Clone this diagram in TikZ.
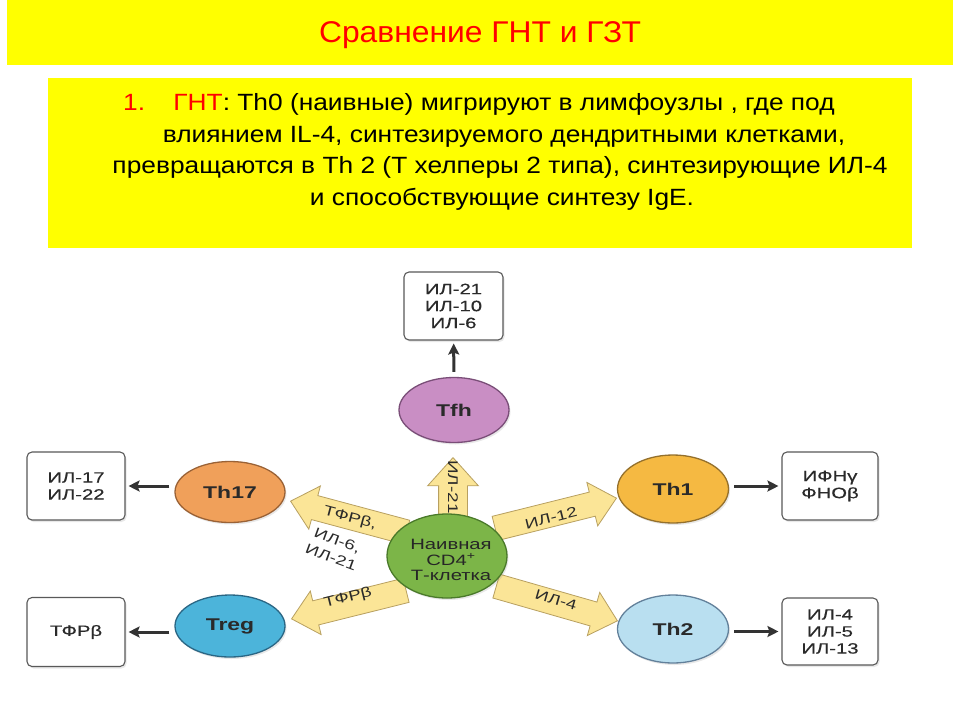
\documentclass[tikz,border=0pt]{standalone}
\usepackage{fontspec}
\setmainfont{Liberation Sans}
\newfontfamily\bodyf[FakeStretch=1.12]{Liberation Sans}
\newfontfamily\titlef[FakeStretch=1.06]{Liberation Sans}
\newfontfamily\dg[FakeStretch=1.35]{Liberation Sans}
\newfontfamily\dgb[FakeStretch=1.35,FakeBold=0.4]{Liberation Sans}
\usetikzlibrary{shapes.geometric,shapes.arrows,arrows.meta,shadows}
\definecolor{band}{HTML}{FFFF00}
\definecolor{afill}{HTML}{FBE597}
\definecolor{aedge}{HTML}{B8A060}
\definecolor{cTfh}{HTML}{C98EC4}\definecolor{eTfh}{HTML}{7A4E78}
\definecolor{cThs}{HTML}{F0A05A}\definecolor{eThs}{HTML}{9A6236}
\definecolor{cTho}{HTML}{F5B942}\definecolor{eTho}{HTML}{94702C}
\definecolor{cTht}{HTML}{B9DFF0}\definecolor{eTht}{HTML}{62809A}
\definecolor{cTrg}{HTML}{4CB4DA}\definecolor{eTrg}{HTML}{2A6684}
\definecolor{cCen}{HTML}{7CB548}\definecolor{eCen}{HTML}{4A7A2A}
\definecolor{txt}{HTML}{2A2A2A}
\tikzset{
  softshadow/.style={drop shadow={opacity=0.18, shadow xshift=1.5pt, shadow yshift=-2pt}},
  outbox/.style={draw=black!65, line width=1.1pt, rounded corners=5pt, fill=white,
    softshadow, align=center, inner sep=0pt, text=txt, font=\dgb\fontsize{15}{17}\selectfont},
  cell/.style={ellipse, line width=1.3pt, inner sep=0pt, text=txt, softshadow,
    font=\dg\bfseries\fontsize{17}{18}\selectfont},
  blockarrow/.style={single arrow, draw=aedge, fill=afill, line width=0.8pt,
    single arrow head extend=10pt, single arrow tip angle=84,
    text height=9pt, text depth=3pt, inner ysep=6pt, inner xsep=0pt,
    anchor=tip},
  uparrow/.style={blockarrow, single arrow head extend=11pt, inner ysep=8pt},
  alabel/.style={inner sep=0pt, text=txt, font=\dg\fontsize{14}{14}\selectfont},
  blk/.style={line width=3pt, draw=black!80,
    -{Stealth[length=11pt,width=11pt,inset=2pt]}, shorten >=3pt, shorten <=5pt},
  bodytext/.style={anchor=base, inner sep=0pt, font=\bodyf\fontsize{23.5}{32}\selectfont}
}
\begin{document}
\begin{tikzpicture}[x=1pt,y=-1pt]
\useasboundingbox (0,0) rectangle (960,720);
\fill[white] (0,0) rectangle (960,720);
% title band
\node[fill=band, minimum width=946pt, minimum height=65pt, inner sep=0pt, anchor=north west] (band) at (7,0) {};
\node[text=red, font=\titlef\fontsize{30}{32}\selectfont, inner sep=0pt] (title) at (480,35) {Сравнение ГНТ и ГЗТ};
% text box
\node[fill=band, minimum width=864pt, minimum height=170pt, inner sep=0pt, anchor=north west] (tbox) at (48,78) {};
\node[bodytext, anchor=base west, text=red] (num) at (123,110) {1.};
\node[bodytext] (l1) at (504,110) {\textcolor{red}{ГНТ}: Th0 (наивные) мигрируют в лимфоузлы , где под};
\node[bodytext] (l2) at (504,142) {влиянием IL-4, синтезируемого дендритными клетками,};
\node[bodytext] (l3) at (500,173) {превращаются в Th 2 (Т хелперы 2 типа), синтезирующие ИЛ-4};
\node[bodytext] (l4) at (502,205) {и способствующие синтезу IgE.};

% block arrows (behind central cell)
\node[uparrow, rotate=-90, shape border rotate=180, minimum height=65pt] (aup) at (453,457) {};
\node[blockarrow, rotate=-15, shape border rotate=180, minimum height=120pt] (aul) at (290,501) {};
\node[blockarrow, rotate=14, shape border rotate=180, minimum height=118pt] (all) at (291,619) {};
\node[blockarrow, rotate=14, minimum height=125pt] (aur) at (617,498) {};
\node[blockarrow, rotate=-16, minimum height=126pt] (alr) at (618,621) {};
\node[alabel, rotate=-90] (tup) at (453,487) {ИЛ-21};
\node[alabel, rotate=-15] (tul) at (350,518) {ТФРβ,};
\node[alabel, rotate=-20] (tul2) at (337,541) {ИЛ-6,};
\node[alabel, rotate=-20] (tul3) at (331,557) {ИЛ-21};
\node[alabel, rotate=14] (tll) at (348,598) {ТФРβ};
\node[alabel, rotate=14] (tur) at (551,518) {ИЛ-12};
\node[alabel, rotate=-16] (tlr) at (556,600) {ИЛ-4};

% central cell
\node[cell, fill=cCen, draw=eCen, minimum width=120pt, minimum height=84pt] (naive) at (447,556) {};
\node[align=center, inner sep=0pt, font=\dg\fontsize{15}{15.5}\selectfont, text=black!85] (naivetxt) at (451,560) {Наивная\\CD4\textsuperscript{+}\\Т-клетка};

% cells
\node[cell, fill=cTfh, draw=eTfh, minimum width=110pt, minimum height=65pt] (tfh) at (454,410) {Tfh};
\node[cell, fill=cThs, draw=eThs, minimum width=110pt, minimum height=61pt] (th17) at (230,492) {Th17};
\node[cell, fill=cTrg, draw=eTrg, minimum width=110pt, minimum height=62pt] (treg) at (230,626) {Treg};
\node[cell, fill=cTho, draw=eTho, minimum width=111pt, minimum height=68pt] (th1) at (673,489) {Th1};
\node[cell, fill=cTht, draw=eTht, minimum width=111pt, minimum height=68pt] (th2) at (673,629) {Th2};

% output boxes
\node[outbox, minimum width=99pt, minimum height=68pt] (bTfh) at (453.5,306) {ИЛ-21\\ИЛ-10\\ИЛ-6};
\node[outbox, minimum width=98pt, minimum height=68pt] (bTh17) at (76,486) {ИЛ-17\\ИЛ-22};
\node[outbox, minimum width=98pt, minimum height=69pt] (bTreg) at (76,632) {ТФРβ};
\node[outbox, minimum width=96pt, minimum height=68pt] (bTh1) at (830,486) {ИФНγ\\ФНОβ};
\node[outbox, minimum width=96pt, minimum height=67pt] (bTh2) at (830,631.5) {ИЛ-4\\ИЛ-5\\ИЛ-13};

% connectors
\draw[blk] (tfh) -- (bTfh);
\draw[blk] (bTh17.east -| th17.west) -- (bTh17.east);
\draw[blk] (bTreg.east -| treg.west) -- (bTreg.east);
\draw[blk] (bTh1.west -| th1.east) -- (bTh1.west);
\draw[blk] (bTh2.west -| th2.east) -- (bTh2.west);
\end{tikzpicture}
\end{document}
